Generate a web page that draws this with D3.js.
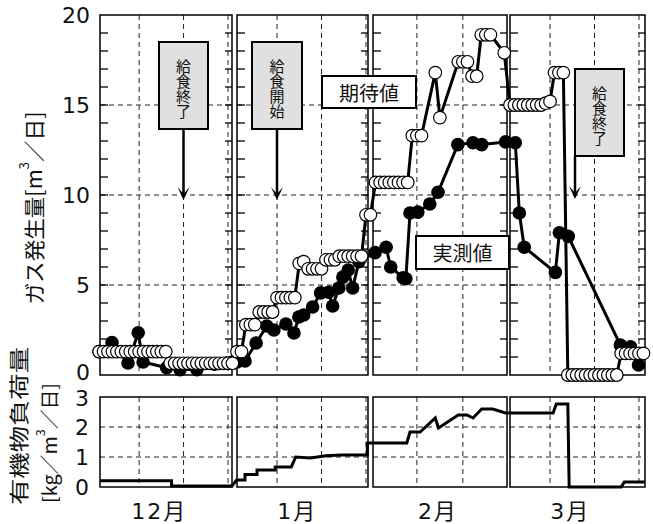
<!DOCTYPE html>
<html>
<head>
<meta charset="utf-8">
<script src="https://cdn.jsdelivr.net/npm/d3@7"></script>
<style>
  body { margin: 0; background: #fff; }
  text { font-family: "Noto Sans CJK JP", "Noto Sans", sans-serif; fill: #111; }
</style>
</head>
<body>
<div id="chart"></div>
<script>
// data ---------------------------------------------------------------------------------------------
const months = ["12月", "1月", "2月", "3月"];
const gridDays = [10, 20, 30];
const gasTicks = [0, 5, 10, 15, 20];
const loadTicks = [0, 1, 2, 3];

// expected gas (期待値), one value per day of month, null = no point
const expectedDec = [1.3, 1.3, 1.3, 1.3, 1.3, 1.3, 1.3, 1.3, 1.3, 1.3, 1.3, 1.3, 1.3, 1.3, 1.3, 1.3,
  0.65, 0.65, 0.65, 0.65, 0.65, 0.65, 0.65, 0.65, 0.65, 0.65, 0.65, 0.65, 0.65, 0.65, 0.65];
const expectedJan = [1.3, 1.3, 2.8, 2.8, 2.8, 3.5, 3.5, 3.5, 3.5, 4.3, 4.3, 4.3, 4.3, 4.3, 6.2, 6.3,
  5.9, 5.9, 5.9, 5.9, 6.4, 6.4, 6.4, 6.6, 6.6, 6.6, 6.6, 6.6, 6.6, 8.9, 8.9];
const expectedFeb = [10.7, 10.7, 10.7, 10.7, 10.7, 10.7, 10.7, 10.7, 13.3, 13.3, 13.3, null, null, 16.8, 14.3,
  null, null, null, 17.4, 17.4, 17.4, 16.6, 16.6, 18.9, 18.9, 18.9, null, null, 17.9];
const expectedMar = [15.0, 15.0, 15.0, 15.0, 15.0, 15.0, 15.0, 15.0, 15.1, 15.2, 16.8, 16.8, 16.8,
  0, 0, 0, 0, 0, 0, 0, 0, 0, 0, 0, 0, 1.2, 1.2, 1.2, 1.2, 1.2, 1.2];

// measured gas (実測値): [day, value]
const measuredDec = [[1, 1.3], [3.9, 1.8], [7.5, 0.67], [9.8, 2.35], [10.9, 0.72], [16.2, 0.4],
  [19.2, 0.3], [23, 0.3], [27, 0.6], [30.9, 0.7]];
const measuredJan = [[1, 0.72], [2.8, 0.78], [5.3, 1.78], [7.7, 2.72], [9.3, 2.5], [12, 2.83], [13.8, 2.33],
  [14.9, 3.22], [16, 3.33], [18, 3.78], [19.8, 4.56], [21.6, 4.6], [22.5, 3.83], [23.9, 4.83],
  [24.8, 5.44], [26, 5.83], [27, 4.83], [28.4, 6.3]];
const measuredFeb = [[0.9, 6.8], [3.3, 7.1], [4.3, 6.0], [7, 5.4], [7.6, 5.35], [8.5, 9.0], [10.2, 9.05],
  [12.8, 9.5], [14.6, 10.15], [18.9, 12.8], [22.2, 12.9], [24.1, 12.8], [29.3, 12.95]];
const measuredMar = [[2.2, 12.9], [3.1, 9.0], [4.2, 7.1], [11.2, 5.7], [12.1, 7.9], [14.1, 7.7],
  [25.8, 1.67], [28.1, 1.56], [29.9, 0.56]];

// organic load (有機物負荷量): [day, value]
const loadDec = [[1.2, 0.21], [17.3, 0.21], [17.3, 0.03], [30.9, 0.03]];
const loadJan = [[0.9, 0.23], [2.8, 0.23], [2.8, 0.42], [5.5, 0.42], [5.5, 0.57], [9.6, 0.57], [9.6, 0.67],
  [13.2, 0.67], [14.2, 1.0], [17.5, 0.97], [21, 1.04], [24.5, 1.07], [30.3, 1.07], [30.3, 1.47]];
const loadFeb = [[0.5, 1.47], [7.8, 1.47], [8.5, 1.83], [10.7, 1.83], [14, 2.3], [14.7, 1.97],
  [19, 2.4], [20.9, 2.4], [22.2, 2.3], [24.1, 2.6], [26.5, 2.6], [29.3, 2.47]];
const loadMar = [[1, 2.47], [10.7, 2.47], [11.4, 2.77], [14, 2.77], [14.3, 0], [26, 0], [26.7, 0.17], [31.3, 0.17]];

// layout -------------------------------------------------------------------------------------------
const width = 653, height = 524;
const panelX = [[100, 232], [237, 368], [373, 507], [510, 645]];
const dayDomains = [[1.2, 30.9], [1, 30.45], [0.45, 29.6], [1, 31.35]];
const numFont = '"DejaVu Sans", "Noto Sans CJK JP", sans-serif';

const xScales = panelX.map((r, i) => d3.scaleLinear().domain(dayDomains[i]).range(r));
const yGas = d3.scaleLinear().domain([0, 20]).range([375, 15]);
const yLoad = d3.scaleLinear().domain([0, 3]).range([487, 397]);

const svg = d3.select('#chart').append('svg')
  .attr('width', width)
  .attr('height', height);

// turn per-month arrays into [month, day, value] rows
const daily = (arr, m) => arr.map((v, i) => [m, i + 1, v]).filter(d => d[2] !== null);
const tagged = (arr, m) => arr.map(d => [m, d[0], d[1]]);

const expected = [expectedDec, expectedJan, expectedFeb, expectedMar].flatMap(daily);
const measured = [measuredDec, measuredJan, measuredFeb, measuredMar].flatMap(tagged);
const load = [loadDec, loadJan, loadFeb, loadMar].flatMap(tagged);

const xPos = d => xScales[d[0]](d[1]);

// frames, grids, ticks ------------------------------------------------------------------------------
const frames = svg.append('g');
panelX.forEach((r, i) => {
  const x = xScales[i];
  [[yGas, [5, 10, 15]], [yLoad, [1, 2]]].forEach(([y, hGrid]) => {
    const [yb, yt] = y.range();
    const g = frames.append('g');
    g.selectAll('.hg').data(hGrid).join('line')
      .attr('x1', r[0]).attr('x2', r[1])
      .attr('y1', d => y(d)).attr('y2', d => y(d))
      .attr('stroke', '#222').attr('stroke-width', 1).attr('stroke-dasharray', '5,4');
    g.selectAll('.vg').data(gridDays.filter(d => x(d) < r[1] - 1)).join('line')
      .attr('x1', d => x(d)).attr('x2', d => x(d))
      .attr('y1', yt).attr('y2', yb)
      .attr('stroke', '#222').attr('stroke-width', 1).attr('stroke-dasharray', '5,4');
    g.append('rect')
      .attr('x', r[0]).attr('y', yt)
      .attr('width', r[1] - r[0]).attr('height', yb - yt)
      .attr('fill', 'none').attr('stroke', '#000').attr('stroke-width', 1.5);
  });
  // inner ticks on gas panels
  const t = frames.append('g');
  const ticks = d3.range(1, 20);
  t.selectAll('.tl').data(ticks).join('line')
    .attr('x1', r[0]).attr('x2', r[0] + 8)
    .attr('y1', d => yGas(d)).attr('y2', d => yGas(d))
    .attr('stroke', '#000').attr('stroke-width', 1.3);
  t.selectAll('.tr').data(ticks).join('line')
    .attr('x1', r[1] - 7).attr('x2', r[1])
    .attr('y1', d => yGas(d)).attr('y2', d => yGas(d))
    .attr('stroke', '#000').attr('stroke-width', 1.3);
});

// axes labels
const axisGas = svg.append('g').attr('transform', 'translate(100,0)')
  .call(d3.axisLeft(yGas).tickValues(gasTicks).tickFormat(d3.format('d')).tickSize(0).tickPadding(10));
const axisLoad = svg.append('g').attr('transform', 'translate(100,0)')
  .call(d3.axisLeft(yLoad).tickValues(loadTicks).tickFormat(d3.format('d')).tickSize(0).tickPadding(11));
[axisGas, axisLoad].forEach(a => {
  a.select('.domain').remove();
  a.selectAll('text')
    .style('font-family', numFont)
    .style('font-size', '22px')
    .attr('fill', '#111');
});
// nudge the two touching labels apart a little, as in the original
axisGas.selectAll('.tick').filter(d => d === 0).select('text').attr('dy', '0.2em');
axisLoad.selectAll('.tick').filter(d => d === 3).select('text').attr('dy', '0.4em');

svg.append('g').selectAll('text').data(months).join('text')
  .attr('x', (d, i) => xScales[i](15) - 2)
  .attr('y', 519)
  .attr('text-anchor', 'middle')
  .style('font-family', numFont)
  .style('font-size', '22px')
  .style('letter-spacing', '2px')
  .text(d => d);

// y titles
const title1 = svg.append('text')
  .attr('transform', 'translate(33,208) rotate(-90)')
  .attr('text-anchor', 'middle')
  .attr('dominant-baseline', 'central')
  .attr('textLength', 193).attr('lengthAdjust', 'spacingAndGlyphs')
  .style('font-size', '21px');
title1.append('tspan').text('ガス発生量[m');
title1.append('tspan').attr('baseline-shift', 'super').style('font-size', '13px').text('3');
title1.append('tspan').text('／日]');

svg.append('text')
  .attr('transform', 'translate(18,505) rotate(-90)')
  .attr('dominant-baseline', 'central')
  .attr('textLength', 158).attr('lengthAdjust', 'spacingAndGlyphs')
  .style('font-size', '20px')
  .text('有機物負荷量');
const title2 = svg.append('text')
  .attr('transform', 'translate(48,503) rotate(-90)')
  .attr('dominant-baseline', 'central')
  .attr('textLength', 120).attr('lengthAdjust', 'spacingAndGlyphs')
  .style('font-size', '19px');
title2.append('tspan').text('[kg／m');
title2.append('tspan').attr('baseline-shift', 'super').style('font-size', '12px').text('3');
title2.append('tspan').text('／日]');

// series -------------------------------------------------------------------------------------------
const lineGas = d3.line().x(xPos).y(d => yGas(d[2]));
const lineLoad = d3.line().x(xPos).y(d => yLoad(d[2]));

svg.append('path').datum(load)
  .attr('d', lineLoad)
  .attr('fill', 'none').attr('stroke', '#000').attr('stroke-width', 3);

svg.append('path').datum(measured)
  .attr('d', lineGas)
  .attr('fill', 'none').attr('stroke', '#000').attr('stroke-width', 3);
svg.append('g').selectAll('circle').data(measured).join('circle')
  .attr('cx', xPos).attr('cy', d => yGas(d[2]))
  .attr('r', 6.8).attr('fill', '#000');

svg.append('path').datum(expected)
  .attr('d', lineGas)
  .attr('fill', 'none').attr('stroke', '#000').attr('stroke-width', 3);
svg.append('g').selectAll('circle').data(expected).join('circle')
  .attr('cx', xPos).attr('cy', d => yGas(d[2]))
  .attr('r', 6.3).attr('fill', '#fff').attr('stroke', '#000').attr('stroke-width', 1.2);

// annotations --------------------------------------------------------------------------------------
function arrow(x, y0, y1) {
  svg.append('line').attr('x1', x).attr('x2', x).attr('y1', y0).attr('y2', y1 - 6)
    .attr('stroke', '#000').attr('stroke-width', 2.5);
  svg.append('path')
    .attr('d', `M${x - 6},${y1 - 13} L${x},${y1} L${x + 6},${y1 - 13} L${x},${y1 - 6} Z`)
    .attr('fill', '#000');
}
function noteBox(x, y, w, h, label) {
  svg.append('rect').attr('x', x).attr('y', y).attr('width', w).attr('height', h)
    .attr('fill', '#e0e0e0').attr('stroke', '#000').attr('stroke-width', 2);
  svg.append('text')
    .attr('x', x + w / 2)
    .attr('y', y + h / 2 + 3)
    .attr('text-anchor', 'middle')
    .style('writing-mode', 'vertical-rl')
    .style('font-size', '15px')
    .attr('fill', '#222')
    .text(label);
}
function legendBox(x, y, w, h, label) {
  svg.append('rect').attr('x', x).attr('y', y).attr('width', w).attr('height', h)
    .attr('fill', '#fff').attr('stroke', '#000').attr('stroke-width', 2);
  svg.append('text')
    .attr('x', x + w / 2).attr('y', y + h / 2)
    .attr('text-anchor', 'middle').attr('dominant-baseline', 'central')
    .style('font-size', '20px')
    .text(label);
}

noteBox(159, 42, 49, 87, '給食終了');
arrow(183.5, 129, 200);
noteBox(252, 42, 50, 87, '給食開始');
arrow(277, 129, 200);
noteBox(575, 69, 49, 87, '給食終了');
arrow(575, 156, 199);
legendBox(322, 76, 94, 32, '期待値');
legendBox(416, 236, 93, 33, '実測値');
</script>
</body>
</html>
